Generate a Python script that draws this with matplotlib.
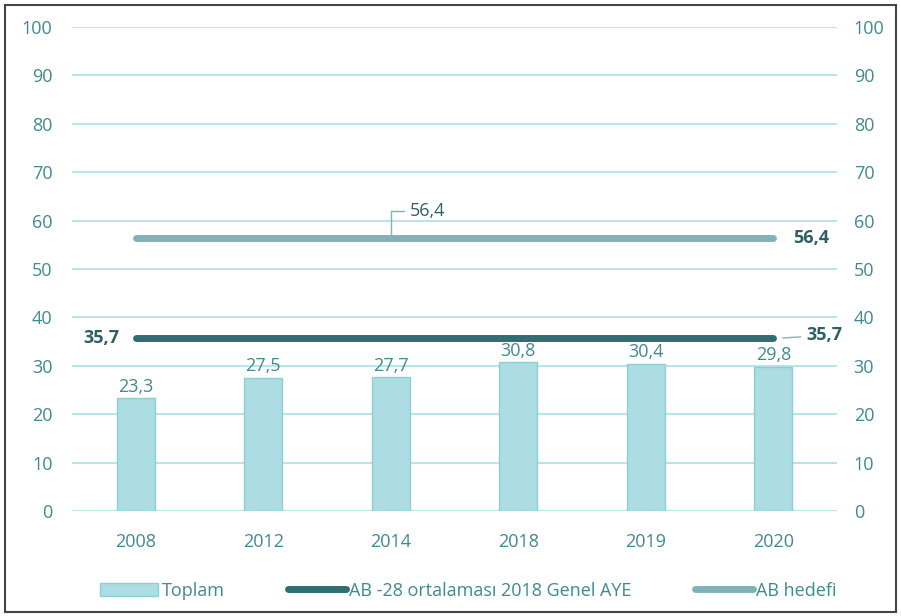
import numpy as np
import matplotlib.pyplot as plt
from matplotlib.patches import Rectangle

years = ["2008", "2012", "2014", "2018", "2019", "2020"]
toplam = [23.3, 27.5, 27.7, 30.8, 30.4, 29.8]
ab28 = [35.7] * 6
hedef = [56.4] * 6

teal = "#3f8a8f"
dark = "#2f5f63"
plt.rcParams['font.family'] = ['Open Sans', 'DejaVu Sans']

fig = plt.figure(figsize=(9.01, 6.16), dpi=100)
ax = fig.add_axes([0.080, 0.1705, 0.849, 0.7855])
x = np.arange(len(years))

ax.set_axisbelow(True)
ax.yaxis.grid(True, color="#b8e4ea", lw=1.5)
b = ax.bar(x, toplam, width=0.3, color="#abdde3", edgecolor="#8fcdd4", lw=1)
l1, = ax.plot(x, ab28, color="#2f6e73", lw=5, solid_capstyle="round")
l2, = ax.plot(x, hedef, color="#7fb3b8", lw=5, solid_capstyle="round")

for xi, v in zip(x, toplam):
    ax.text(xi, v + 0.5, f"{v:.1f}".replace(".", ","), ha="center", va="bottom", color=teal, fontsize=13)

# etiketler
ax.annotate("56,4", xy=(2, hedef[2]), xytext=(2.15, 62), color=dark, fontsize=13,
            va="center", ha="left", arrowprops=dict(arrowstyle="-", color="#7fb3b8", lw=1,
                                                    connectionstyle="angle,angleA=0,angleB=90,rad=0"))
ax.text(5.3, hedef[-1], "56,4", color=dark, fontsize=13, fontweight="bold", ha="center", va="center")
ax.text(-0.13, ab28[0], "35,7", color=dark, fontsize=13, fontweight="bold", ha="right", va="center")
ax.annotate("35,7", xy=(5.05, ab28[-1]), xytext=(5.4, 36.3), color=dark, fontsize=13, fontweight="bold",
            va="center", ha="center", arrowprops=dict(arrowstyle="-", color="#7fb3b8", lw=1))

ax.set_xlim(-0.5, 5.5)
ax.set_ylim(0, 100)
ax.set_yticks(range(0, 101, 10))
ax.set_xticks(x)
ax.set_xticklabels(years)
ax.tick_params(axis="both", length=0, colors=teal, labelsize=13)
ax.tick_params(axis="y", pad=14)
ax.tick_params(axis="x", pad=16)
ax2 = ax.twinx()
ax2.set_ylim(0, 100)
ax2.set_yticks(range(0, 101, 10))
ax2.tick_params(axis="y", length=0, colors=teal, labelsize=13, pad=12)
for a in (ax, ax2):
    for s in a.spines.values():
        s.set_visible(False)

fig.legend([b, l1, l2], ["Toplam", "AB -28 ortalaması 2018 Genel AYE", "AB hedefi"],
           loc="lower center", bbox_to_anchor=(0.52, 0.0), ncol=3, frameon=False, fontsize=13,
           labelcolor=teal, handlelength=3.2, handletextpad=0.2, columnspacing=3.5)

fig.patches.append(Rectangle((0.006, 0.006), 0.988, 0.986, transform=fig.transFigure,
                             fill=False, edgecolor="#444444", lw=1.5))

fig.savefig("out.png", dpi=100)
